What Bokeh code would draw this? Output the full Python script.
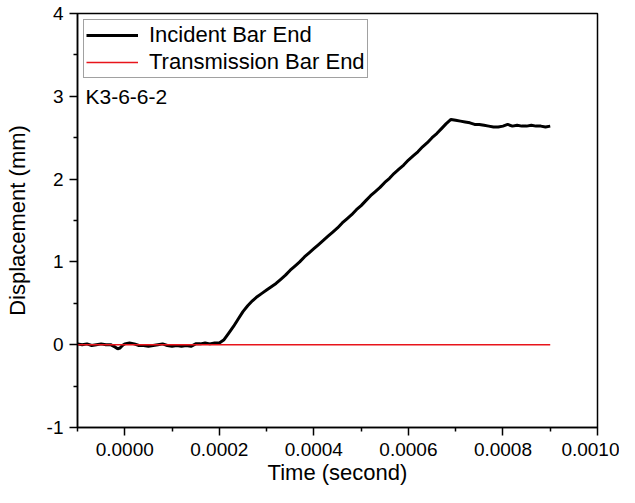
from bokeh.plotting import figure
from bokeh.models import (FixedTicker, NumeralTickFormatter, Legend, LegendItem,
                          Label, Range1d, ColumnDataSource)
from bokeh.embed import file_html
from bokeh.resources import INLINE

# ---- data ----
incident_time = [
    -0.00010, -0.00009, -0.00008, -0.00007, -0.00006, -0.00005, -0.00004, -0.00003,
    -0.00002, -0.000015, -0.00001, -0.000005, 0.00000, 0.00001, 0.00002, 0.00003,
    0.00004, 0.00005, 0.00006, 0.00007, 0.00008, 0.00009, 0.00010, 0.00011,
    0.00012, 0.00013, 0.00014, 0.00015, 0.00016, 0.00017, 0.00018, 0.00019,
    0.00020, 0.00021, 0.000215, 0.00022, 0.00023, 0.00024, 0.00025, 0.00026,
    0.00027, 0.00028, 0.00029, 0.00030, 0.00031, 0.00032, 0.00033, 0.00034,
    0.00035, 0.00036, 0.00037, 0.00038, 0.00039, 0.00040, 0.00041, 0.00042,
    0.00043, 0.00044, 0.00045, 0.00046, 0.00047, 0.00048, 0.00049, 0.00050,
    0.00051, 0.00052, 0.00053, 0.00054, 0.00055, 0.00056, 0.00057, 0.00058,
    0.00059, 0.00060, 0.00061, 0.00062, 0.00063, 0.00064, 0.00065, 0.00066,
    0.00067, 0.00068, 0.00069, 0.00070, 0.00071, 0.00072, 0.00073, 0.00074,
    0.00075, 0.00076, 0.00077, 0.00078, 0.00079, 0.00080, 0.00081, 0.00082,
    0.00083, 0.00084, 0.00085, 0.00086, 0.00087, 0.00088, 0.00089, 0.00090,
]
incident_disp = [
    0.01, 0.00, 0.01, -0.01, 0.00, 0.01, 0.00, 0.00,
    -0.03, -0.05, -0.04, -0.01, 0.01, 0.02, 0.01, -0.01,
    -0.01, -0.02, -0.01, 0.00, 0.01, -0.01, -0.02, -0.01,
    -0.02, -0.01, -0.02, 0.01, 0.01, 0.02, 0.01, 0.02,
    0.02, 0.06, 0.10, 0.14, 0.22, 0.31, 0.40, 0.47,
    0.53, 0.58, 0.62, 0.66, 0.70, 0.74, 0.79, 0.84,
    0.90, 0.95, 1.00, 1.06, 1.11, 1.16, 1.21, 1.26,
    1.31, 1.36, 1.41, 1.47, 1.52, 1.57, 1.63, 1.68,
    1.74, 1.80, 1.85, 1.90, 1.96, 2.01, 2.07, 2.12,
    2.17, 2.23, 2.28, 2.33, 2.39, 2.44, 2.50, 2.55,
    2.61, 2.67, 2.72, 2.71, 2.70, 2.69, 2.68, 2.66,
    2.66, 2.65, 2.64, 2.63, 2.63, 2.64, 2.66, 2.64,
    2.65, 2.64, 2.64, 2.65, 2.64, 2.64, 2.63, 2.64,
]
transmission_time = [-0.00010, 0.00000, 0.00020, 0.00040, 0.00060, 0.00080, 0.00090]
transmission_disp = [0.0, 0.0, 0.0, 0.0, 0.0, 0.0, 0.0]

x_major = [0.0, 0.0002, 0.0004, 0.0006, 0.0008, 0.0010]
x_minor = [-0.0001, 0.0001, 0.0003, 0.0005, 0.0007, 0.0009]
y_major = [-1, 0, 1, 2, 3, 4]
y_minor = [-0.5, 0.5, 1.5, 2.5, 3.5]

FONT = "Liberation Sans"

p = figure(width=619, height=487, output_backend="svg", toolbar_location=None,
           x_range=Range1d(-0.0001, 0.0010), y_range=Range1d(-1, 4),
           min_border_left=77, min_border_right=22, min_border_top=13,
           min_border_bottom=55)
p.background_fill_color = "white"
p.border_fill_color = "white"
p.grid.visible = False
p.outline_line_color = "black"
p.outline_line_width = 1.5
p.outline_line_alpha = 1.0

src_i = ColumnDataSource(dict(t=incident_time, d=incident_disp))
src_t = ColumnDataSource(dict(t=transmission_time, d=transmission_disp))
r_inc = p.line("t", "d", source=src_i, line_color="black", line_width=3)
r_tr = p.line("t", "d", source=src_t, line_color="#e8141b", line_width=1.6)

for ax in (p.xaxis[0], p.yaxis[0]):
    ax.axis_line_color = "black"
    ax.axis_line_width = 1.5
    ax.major_tick_line_color = "black"
    ax.minor_tick_line_color = "black"
    ax.major_tick_line_width = 1.5
    ax.minor_tick_line_width = 1.5
    ax.major_tick_out = 8
    ax.major_tick_in = 0
    ax.minor_tick_out = 4
    ax.minor_tick_in = 0
    ax.major_label_text_font = FONT
    ax.major_label_text_font_size = "19px"
    ax.major_label_text_color = "black"
    ax.axis_label_text_font = FONT
    ax.axis_label_text_font_size = "22px"
    ax.axis_label_text_font_style = "normal"
    ax.axis_label_text_color = "black"

p.xaxis.ticker = FixedTicker(ticks=x_major, minor_ticks=x_minor)
p.yaxis.ticker = FixedTicker(ticks=y_major, minor_ticks=y_minor)
p.xaxis.formatter = NumeralTickFormatter(format="0.0000")
p.yaxis.formatter = NumeralTickFormatter(format="0")
p.xaxis.axis_label = "Time (second)"
p.yaxis.axis_label = "Displacement (mm)"
p.xaxis.major_label_standoff = 7
p.xaxis.axis_label_standoff = 1
p.yaxis.major_label_standoff = 6
p.yaxis.axis_label_standoff = 14

legend = Legend(items=[LegendItem(label="Incident Bar End", renderers=[r_inc]),
                       LegendItem(label="Transmission Bar End", renderers=[r_tr])],
                location="top_left", margin=6, padding=2, spacing=1,
                glyph_width=52, glyph_height=22, label_height=22,
                label_standoff=11,
                label_text_font=FONT, label_text_font_size="22px",
                label_text_color="black",
                border_line_color="#444444", border_line_width=1,
                background_fill_alpha=1.0)
p.add_layout(legend, "center")

p.add_layout(Label(x=8, y=3, x_units="screen", y_units="data", text="K3-6-6-2",
                   text_font=FONT, text_font_size="21px", text_color="black",
                   text_baseline="middle"))

open("out.html", "w").write(file_html(p, INLINE))
